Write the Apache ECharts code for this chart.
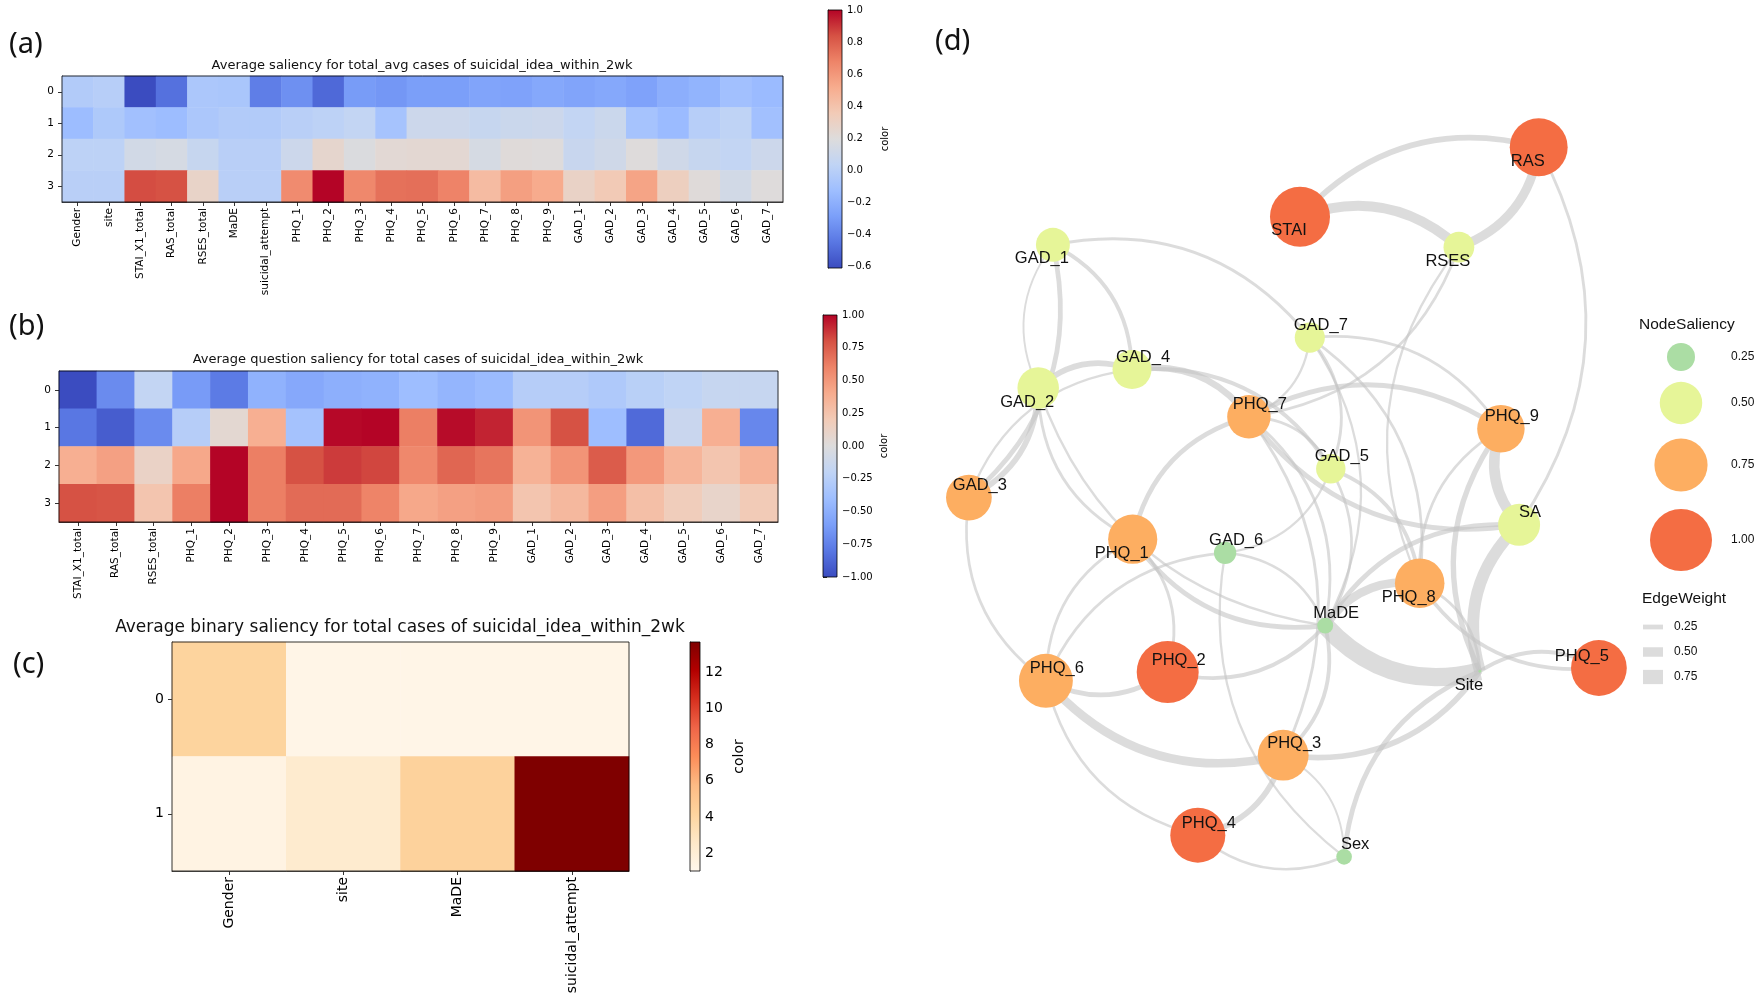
<!DOCTYPE html>
<html><head><meta charset="utf-8">
<script src="https://cdn.jsdelivr.net/npm/echarts@6/dist/echarts.min.js"></script>
<style>html,body{margin:0;padding:0;background:#fff}#c{width:1758px;height:1005px}</style>
</head><body><div id="c"></div>
<script>
// ---------------- DATA ----------------
const rowsA = ['0','1','2','3'];
const colsA = ['Gender','site','STAI_X1_total','RAS_total','RSES_total','MaDE','suicidal_attempt',
  'PHQ_1','PHQ_2','PHQ_3','PHQ_4','PHQ_5','PHQ_6','PHQ_7','PHQ_8','PHQ_9',
  'GAD_1','GAD_2','GAD_3','GAD_4','GAD_5','GAD_6','GAD_7'];
const valsA0 = [-0.03,-0.01,-0.61,-0.47,-0.06,-0.07,-0.42,-0.35,-0.50,-0.30,-0.32,-0.29,-0.29,-0.26,-0.27,-0.24,-0.26,-0.24,-0.27,-0.21,-0.18,-0.11,-0.14];
const valsA1 = [-0.13,-0.05,-0.11,-0.13,-0.06,-0.03,-0.03,0.00,0.02,0.05,-0.09,0.10,0.10,0.07,0.09,0.10,0.05,0.09,-0.09,-0.14,-0.01,0.03,-0.11];
const valsA2 = [0.02,0.02,0.13,0.15,0.07,0.00,0.00,0.10,0.26,0.18,0.23,0.24,0.24,0.15,0.21,0.20,0.08,0.12,0.20,0.12,0.07,0.05,0.10];
const valsA3 = [0.00,0.00,0.85,0.84,0.28,0.00,0.00,0.65,1.00,0.66,0.74,0.745,0.68,0.44,0.57,0.52,0.29,0.36,0.55,0.32,0.21,0.13,0.20];
const ticksA = [-0.6,-0.4,-0.2,0.0,0.2,0.4,0.6,0.8,1.0];

const rowsB = ['0','1','2','3'];
const colsB = ['STAI_X1_total','RAS_total','RSES_total','PHQ_1','PHQ_2','PHQ_3','PHQ_4','PHQ_5','PHQ_6','PHQ_7','PHQ_8','PHQ_9',
  'GAD_1','GAD_2','GAD_3','GAD_4','GAD_5','GAD_6','GAD_7'];
const valsB0 = [-1.00,-0.70,-0.18,-0.62,-0.78,-0.48,-0.54,-0.50,-0.48,-0.40,-0.46,-0.42,-0.26,-0.26,-0.30,-0.24,-0.20,-0.16,-0.16];
const valsB1 = [-0.80,-0.92,-0.70,-0.26,0.06,0.38,-0.36,0.99,1.00,0.62,0.98,0.92,0.52,0.80,-0.40,-0.86,-0.14,0.38,-0.72];
const valsB2 = [0.38,0.46,0.12,0.42,1.00,0.62,0.80,0.86,0.83,0.58,0.72,0.66,0.36,0.52,0.76,0.50,0.34,0.24,0.36];
const valsB3 = [0.80,0.79,0.24,0.62,1.00,0.62,0.70,0.70,0.60,0.42,0.46,0.48,0.24,0.32,0.47,0.28,0.18,0.10,0.20];
const ticksB = [-1.0,-0.75,-0.5,-0.25,0.0,0.25,0.5,0.75,1.0];

const rowsC = ['0','1'];
const colsC = ['Gender','site','MaDE','suicidal_attempt'];
const valsC0 = [4.2,1.2,1.2,1.2];
const valsC1 = [1.4,2.3,4.3,13.7];
const ticksC = [2,4,6,8,10,12];

// network (layout coordinates, x 0-10 right, y 0-10 up)
const nodeNames = ['RAS','STAI','RSES','GAD_1','GAD_7','GAD_4','GAD_2','PHQ_7','PHQ_9','GAD_5','GAD_3','SA','PHQ_1','GAD_6','PHQ_8','MaDE','Site','PHQ_5','PHQ_6','PHQ_2','PHQ_3','PHQ_4','Sex'];
const nodeX = [8.41,5.00,7.27,1.47,5.14,2.60,1.26,4.27,7.87,5.44,0.27,8.13,2.61,3.93,6.71,5.36,7.57,9.27,1.37,3.11,4.76,3.54,5.63];
const nodeY = [9.41,8.54,8.16,8.19,7.03,6.63,6.40,6.04,5.89,5.39,5.03,4.69,4.51,4.34,3.96,3.43,2.86,2.90,2.74,2.85,1.81,0.81,0.54];
const nodeSaliency = [0.88,0.94,0.29,0.34,0.28,0.43,0.48,0.52,0.61,0.27,0.57,0.49,0.65,0.18,0.66,0.12,0.06,0.82,0.77,1.00,0.69,0.80,0.118];
const edges = [
  ['STAI','RAS',0.30],['STAI','RSES',0.52],['RAS','RSES',0.47],['RAS','SA',0.15],
  ['GAD_1','GAD_7',0.15],['GAD_2','GAD_1',0.10],['GAD_1','GAD_3',0.25],['GAD_1','GAD_4',0.20],
  ['GAD_2','GAD_4',0.30],['GAD_3','GAD_4',0.12],['GAD_2','GAD_3',0.30],['PHQ_6','GAD_3',0.14],
  ['GAD_4','PHQ_7',0.35],['GAD_4','GAD_5',0.20],['PHQ_1','GAD_2',0.15],['MaDE','GAD_2',0.12],
  ['GAD_7','GAD_5',0.15],['GAD_7','PHQ_9',0.15],['GAD_7','PHQ_7',0.12],['GAD_7','MaDE',0.12],['GAD_7','PHQ_8',0.14],
  ['PHQ_7','PHQ_9',0.25],['SA','PHQ_7',0.25],['PHQ_1','PHQ_7',0.25],['PHQ_7','MaDE',0.15],['PHQ_7','PHQ_3',0.15],
  ['PHQ_7','GAD_5',0.15],['RSES','PHQ_7',0.14],['PHQ_8','RSES',0.12],
  ['SA','PHQ_9',0.55],['PHQ_8','PHQ_9',0.14],['Site','PHQ_9',0.28],['Site','SA',0.62],['MaDE','SA',0.25],
  ['Site','MaDE',0.95],['MaDE','PHQ_8',0.45],['MaDE','PHQ_3',0.20],['MaDE','PHQ_2',0.20],['MaDE','PHQ_1',0.25],
  ['PHQ_2','PHQ_6',0.25],['PHQ_3','PHQ_6',0.45],['PHQ_4','PHQ_6',0.14],['PHQ_6','PHQ_1',0.14],['PHQ_6','GAD_6',0.14],
  ['PHQ_3','PHQ_4',0.30],['PHQ_3','Sex',0.10],['Sex','PHQ_4',0.14],['Site','PHQ_3',0.30],['Sex','Site',0.25],
  ['Sex','GAD_6',0.12],['GAD_6','MaDE',0.14],['PHQ_1','PHQ_2',0.15],['PHQ_5','PHQ_8',0.20],['Site','PHQ_5',0.20],
  ['PHQ_8','Site',0.15],['GAD_5','MaDE',0.14],['GAD_5','PHQ_8',0.20],['GAD_5','GAD_6',0.12]
];
const legendSaliency = [0.25,0.50,0.75,1.00];
const legendWeight = [0.25,0.50,0.75];

// ---------------- STYLE ----------------
const coolwarm = ['#3b4cc0','#5977e3','#7b9ff9','#9ebeff','#c0d4f5','#dddcdc','#f2cbb7','#f7ac8e','#ee8468','#d65244','#b40426'];
const orrd = ['#fff7ec','#fee8c8','#fdd49e','#fdbb84','#fc8d59','#ef6548','#d7301f','#b30000','#7f0000'];
const F = 'DejaVu Sans';
const NF = 'Liberation Sans';
const labelBelowLeft = ['RAS','STAI','RSES','GAD_1','GAD_2','PHQ_1','PHQ_8','Site'];
const labelNudge = {PHQ_5:[-17,-12]};
function nodeDiameter(v){ return 2*Math.sqrt(Math.max(1020*v-59, 1)); }
function nodeColor(v){
  if (v < 0.26) return '#abdda4';
  if (v < 0.505) return '#e6f598';
  if (v < 0.79) return '#fdae61';
  return '#f46d43';
}
const edgeWidth = w => w*19;

function heatData(rows){ const out=[]; rows.forEach((r,ri)=>r.forEach((v,ci)=>out.push([ci,ri,v]))); return out; }
function minusFmt(d){ return v => { const s = Math.abs(v).toFixed(d); return (v < -1e-9 ? '\u2212' : '') + s; }; }

function cbarRender(cmap){
  const stops = cmap.map((c,i)=>({offset:i/(cmap.length-1), color:cmap[cmap.length-1-i]}));
  return function(params, api){
    const p0 = api.coord([0, api.value(2)]);
    const p1 = api.coord([1, api.value(1)]);
    return {type:'rect', shape:{x:p0[0], y:p0[1], width:p1[0]-p0[0], height:p1[1]-p0[1]},
      style:{fill:new echarts.graphic.LinearGradient(0,0,0,1,stops)}};
  };
}

const black = '#000';
function heatX(idx, cols, fs){
  return {type:'category', gridIndex:idx, data:cols, axisLine:{show:true,lineStyle:{color:black,width:0.8}},
    axisTick:{show:true, alignWithLabel:true, length:4, lineStyle:{color:black,width:0.8}},
    axisLabel:{rotate:90, interval:0, fontFamily:F, fontSize:fs, color:black, margin:6}, splitLine:{show:false}};
}
function heatY(idx, rows, fs){
  return {type:'category', gridIndex:idx, data:rows, inverse:true, axisLine:{show:true,lineStyle:{color:black,width:0.8}},
    axisTick:{show:true, alignWithLabel:true, length:4, lineStyle:{color:black,width:0.8}},
    axisLabel:{fontFamily:F, fontSize:fs, color:black, margin:8}, splitLine:{show:false}};
}
function cbarX(idx){ return {type:'value', gridIndex:idx, min:0, max:1, show:false}; }
function cbarY(idx, mn, mx, ticks, fmt, fs, gap){
  return {type:'value', gridIndex:idx, min:mn, max:mx, position:'right',
    axisLine:{show:true, lineStyle:{color:black,width:0.8}},
    axisTick:{show:true, length:4, customValues:ticks, lineStyle:{color:black,width:0.8}},
    axisLabel:{customValues:ticks, formatter:fmt, fontFamily:F, fontSize:fs, color:black, margin:5},
    splitLine:{show:false},
    name:'color', nameLocation:'middle', nameRotate:90, nameGap:gap,
    nameTextStyle:{fontFamily:F, fontSize:fs, color:black}};
}

const nodes = nodeNames.map((n,i)=>{
  const nudge = labelNudge[n] || (labelBelowLeft.includes(n) ? [-11,14] : [11,-12]);
  return {name:n, value:[nodeX[i], nodeY[i]], symbolSize:nodeDiameter(nodeSaliency[i]),
    itemStyle:{color:nodeColor(nodeSaliency[i])},
    label:{show:true, position:'inside', offset:nudge}};
});
const links = edges.map(e=>({source:e[0], target:e[1], lineStyle:{width:edgeWidth(e[2])}}));

// legends (graphic)
const legY = [357,403,465,540];
const wY = [627,652,677];
const graphics = [];
function txt(x,y,t,font,align,extra){
  return Object.assign({type:'text', x:x, y:y, silent:true,
    style:{text:t, font:font, fill:'#111', align:align||'left', verticalAlign:'middle',
      textAlign:align||'left', textVerticalAlign:'middle'}}, extra||{});
}
graphics.push(txt(9,45,'(a)','29px "Noto Sans"'));
graphics.push(txt(9,327,'(b)','29px "Noto Sans"'));
graphics.push(txt(13,665,'(c)','29px "Noto Sans"'));
graphics.push(txt(935,42,'(d)','29px "Noto Sans"'));
graphics.push(txt(422,66,'Average saliency for total_avg cases of suicidal_idea_within_2wk','13px "DejaVu Sans"','center'));
graphics.push(txt(418,360,'Average question saliency for total cases of suicidal_idea_within_2wk','13px "DejaVu Sans"','center'));
graphics.push(txt(400,628,'Average binary saliency for total cases of suicidal_idea_within_2wk','17px "DejaVu Sans"','center'));
graphics.push(txt(1639,325,'NodeSaliency','15.5px "Liberation Sans"'));
legendSaliency.forEach((v,i)=>{
  graphics.push({type:'circle', silent:true, shape:{cx:1681, cy:legY[i], r:nodeDiameter(v)/2}, style:{fill:nodeColor(v)}});
  graphics.push(txt(1731, legY[i], v.toFixed(2), '12px "Liberation Sans"'));
});
graphics.push(txt(1642,599,'EdgeWeight','15.5px "Liberation Sans"'));
legendWeight.forEach((w,i)=>{
  const h = edgeWidth(w);
  graphics.push({type:'rect', silent:true, shape:{x:1643, y:wY[i]-h/2, width:20, height:h}, style:{fill:'#dcdcdc'}});
  graphics.push(txt(1674, wY[i], w.toFixed(2), '12px "Liberation Sans"'));
});

const option = {
  backgroundColor:'#fff',
  animation:false,
  graphic:graphics,
  grid:[
    {left:62, top:76, width:721, height:126, show:true, borderColor:black, borderWidth:0.8, z:5},
    {left:828, top:10, width:14, height:258, show:true, borderColor:black, borderWidth:0.8, z:5},
    {left:59, top:371, width:719, height:151, show:true, borderColor:black, borderWidth:0.8, z:5},
    {left:823, top:315, width:14, height:262, show:true, borderColor:black, borderWidth:0.8, z:5},
    {left:172, top:642, width:457, height:229, show:true, borderColor:black, borderWidth:0.8, z:5},
    {left:690, top:642, width:10, height:229, show:true, borderColor:black, borderWidth:0.8, z:5},
    {left:950, top:100, width:700, height:800}
  ],
  xAxis:[
    heatX(0, colsA, 10.5), cbarX(1), heatX(2, colsB, 10.5), cbarX(3), heatX(4, colsC, 14), cbarX(5),
    {type:'value', gridIndex:6, min:0, max:10, show:false}
  ],
  yAxis:[
    heatY(0, rowsA, 10.5), cbarY(1, -0.61, 1.0, ticksA, minusFmt(1), 10, 38),
    heatY(2, rowsB, 10.5), cbarY(3, -1, 1, ticksB, minusFmt(2), 10, 42),
    heatY(4, rowsC, 14), cbarY(5, 1.0, 13.7, ticksC, v=>String(v), 14, 32),
    {type:'value', gridIndex:6, min:0, max:10, show:false}
  ],
  visualMap:[
    {type:'continuous', show:false, seriesIndex:0, dimension:2, min:-0.61, max:1.0, inRange:{color:coolwarm}},
    {type:'continuous', show:false, seriesIndex:2, dimension:2, min:-1, max:1, inRange:{color:coolwarm}},
    {type:'continuous', show:false, seriesIndex:4, dimension:2, min:1.0, max:13.7, inRange:{color:orrd}}
  ],
  series:[
    {type:'heatmap', xAxisIndex:0, yAxisIndex:0, data:heatData([valsA0,valsA1,valsA2,valsA3]), itemStyle:{borderWidth:0}, emphasis:{disabled:true}},
    {type:'custom', xAxisIndex:1, yAxisIndex:1, data:[[0.5,-0.61,1.0]], encode:{x:0, y:[1,2]}, renderItem:cbarRender(coolwarm), silent:true},
    {type:'heatmap', xAxisIndex:2, yAxisIndex:2, data:heatData([valsB0,valsB1,valsB2,valsB3]), itemStyle:{borderWidth:0}, emphasis:{disabled:true}},
    {type:'custom', xAxisIndex:3, yAxisIndex:3, data:[[0.5,-1,1]], encode:{x:0, y:[1,2]}, renderItem:cbarRender(coolwarm), silent:true},
    {type:'heatmap', xAxisIndex:4, yAxisIndex:4, data:heatData([valsC0,valsC1]), itemStyle:{borderWidth:0}, emphasis:{disabled:true}},
    {type:'custom', xAxisIndex:5, yAxisIndex:5, data:[[0.5,1.0,13.7]], encode:{x:0, y:[1,2]}, renderItem:cbarRender(orrd), silent:true},
    {type:'graph', layout:'none', coordinateSystem:'cartesian2d', xAxisIndex:6, yAxisIndex:6,
      data:nodes, links:links, roam:false, silent:true,
      label:{show:true, fontFamily:NF, fontSize:16.5, color:'#111'},
      lineStyle:{color:'#c4c4c4', opacity:0.6, curveness:0.3},
      emphasis:{disabled:true}}
  ]
};
const chart = echarts.init(document.getElementById('c'), null, {renderer:'canvas', width:1758, height:1005});
chart.setOption(option);
</script>
</body></html>
